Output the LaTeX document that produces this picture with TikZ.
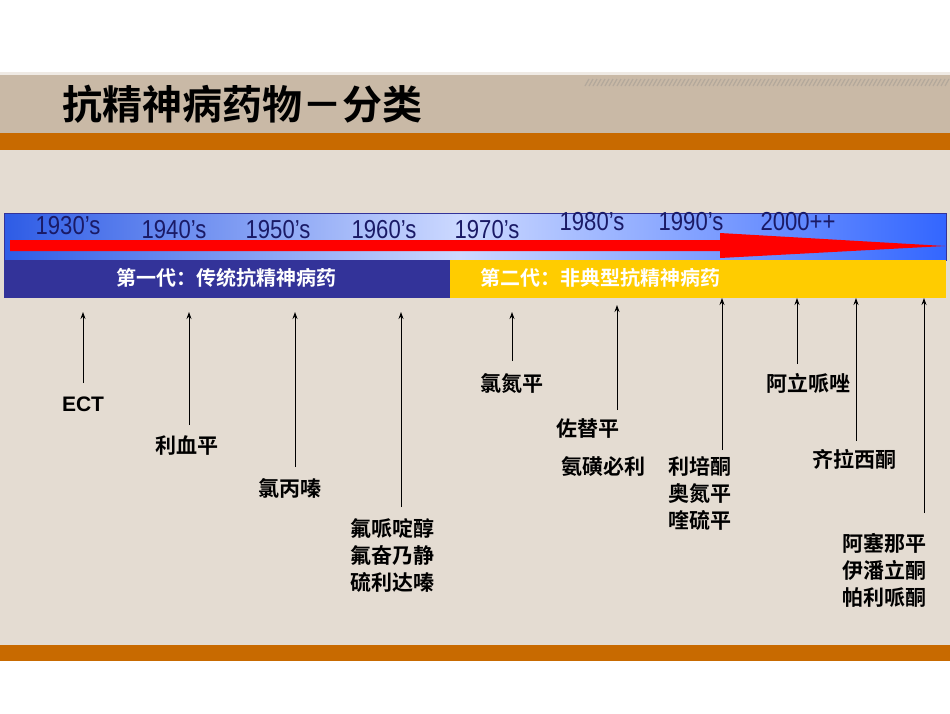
\documentclass[tikz,border=0pt]{standalone}
\usepackage{fontspec}
\setmainfont{Liberation Sans}
\newfontfamily\cjk{Noto Sans CJK SC}[BoldFont={Noto Sans CJK SC Bold}]
\usetikzlibrary{arrows.meta}
\definecolor{tan}{HTML}{C9B9A6}
\definecolor{org}{HTML}{C86A00}
\definecolor{bg}{HTML}{E4DCD2}
\definecolor{navy}{HTML}{333399}
\definecolor{gold}{HTML}{FFCC00}
\definecolor{bbar}{HTML}{3366FF}
\definecolor{ytxt}{HTML}{1A1A66}
\tikzset{lab/.style={font=\cjk\bfseries\fontsize{21}{25}\selectfont, align=center, inner sep=0pt},
 gen/.style={font=\cjk\bfseries\fontsize{20}{22}\selectfont, text=white, inner sep=0pt},
 tick/.style={-{Stealth[length=7pt,width=5pt]}, line width=0.9pt},
 yr/.style={font=\fontsize{26}{28}\selectfont, text=ytxt, inner sep=0pt, xscale=0.85}}
\begin{document}
\begin{tikzpicture}[x=1pt,y=-1pt]
\useasboundingbox (0,0) rectangle (950,713);
\fill[white] (0,0) rectangle (950,713);
\fill[tan] (0,72) rectangle (950,133);
\fill[white!70!tan] (0,72) rectangle (950,75);
\fill[org] (0,133) rectangle (950,150);
\fill[bg] (0,150) rectangle (950,645);
\fill[org] (0,645) rectangle (950,661);
\foreach \i in {0,...,90} \draw[tan!70!gray, line width=1.2pt] (585+\i*4,86) -- (589+\i*4,79);
\node[font=\cjk\bfseries\fontsize{40}{42}\selectfont, anchor=west, inner sep=0pt] (title) at (62,104) {抗精神病药物－分类};
% blue gradient bar
\shade[left color=bbar!90!black, right color=bbar!25!white] (4,213) rectangle (460,260);
\shade[left color=bbar!25!white, right color=bbar] (460,213) rectangle (946,260);
\draw[navy, line width=1pt] (4,213) rectangle (946,260);
\fill[red] (10,240) -- (720,240) -- (720,233) -- (945,246) -- (720,258) -- (720,251) -- (10,251) -- cycle;
\foreach \t/\x/\y in {1930's/68/226,1940's/174/230,1950's/278/230,1960's/384/230,1970's/487/230,1980's/592/222,1990's/691/222,2000++/798/222}
  \node[yr] at (\x,\y) {\t};
\fill[navy] (4,260) rectangle (450,298);
\fill[gold] (450,260) rectangle (946,298);
\node[gen] (g1) at (226,278) {第一代：传统抗精神病药};
\node[gen, anchor=west] (g2) at (480,278) {第二代：非典型抗精神病药};
% labels
\node[lab, font=\bfseries\fontsize{21}{23}\selectfont\rmfamily] (ect) at (83,404) {ECT};
\node[lab] (l1) at (187,445) {利血平};
\node[lab] (l2) at (290,488) {氯丙嗪};
\node[lab] (l3) at (392,555) {氟哌啶醇\\[2pt]氟奋乃静\\[2pt]硫利达嗪};
\node[lab] (l4) at (512,383) {氯氮平};
\node[lab] (l5) at (588,428) {佐替平};
\node[lab] (l6) at (603,466) {氨磺必利};
\node[lab] (l7) at (700,493) {利培酮\\[2pt]奥氮平\\[2pt]喹硫平};
\node[lab] (l8) at (808,383) {阿立哌唑};
\node[lab] (l9) at (854,459) {齐拉西酮};
\node[lab] (l10) at (884,570) {阿塞那平\\[2pt]伊潘立酮\\[2pt]帕利哌酮};
\foreach \x/\a/\b in {83/383/312,189/425/312,295/467/312,401/507/312,512/361/312,617/410/305,722/450/298,797/364/298,856/441/298,924/513/298}
  \draw[tick] (\x,\a) -- (\x,\b);
\end{tikzpicture}
\end{document}
